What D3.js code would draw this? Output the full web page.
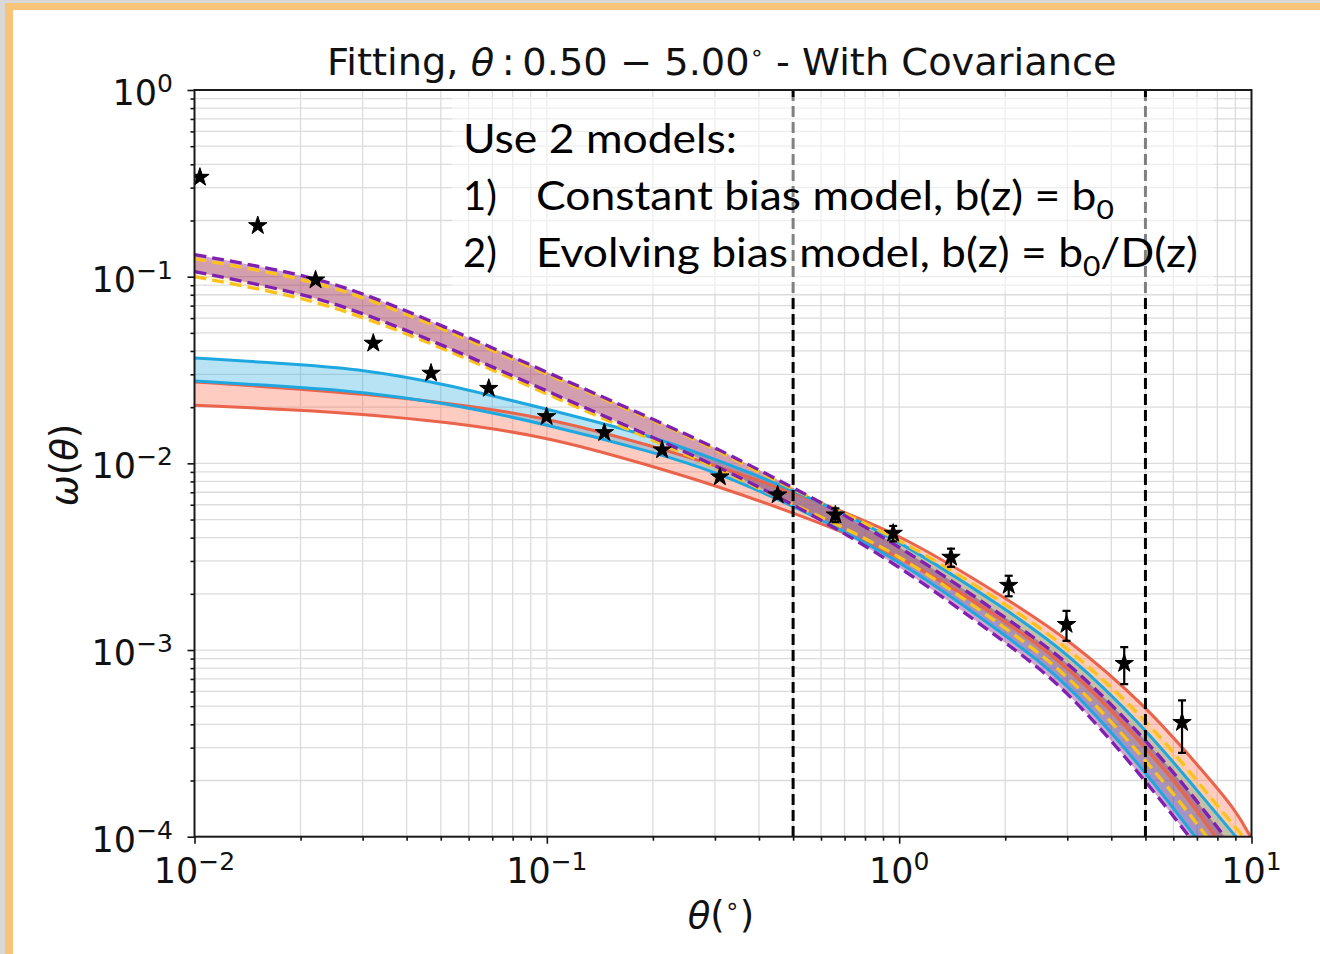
<!DOCTYPE html>
<html>
<head>
<meta charset="utf-8">
<script src="https://cdn.jsdelivr.net/npm/d3@7"></script>
<style>
  html, body { margin: 0; padding: 0; background: #ffffff; }
  svg { display: block; }
</style>
</head>
<body>
<svg id="chart"></svg>
<script>
// θ grid (degrees) on which the model curves are sampled
const thetaGrid = [0.01, 0.02, 0.03, 0.05, 0.1, 0.2, 0.3, 0.5, 1, 2, 3, 5, 7, 9, 10];

// red band (solid edges)
const redUpper = [0.0273, 0.0250, 0.0235, 0.0213, 0.0177, 0.01235, 0.00976, 0.00699, 0.00426, 0.00190, 0.00116, 0.000506, 0.000244, 0.000141, 0.0000975];
const redLower = [0.0205, 0.01927, 0.01834, 0.0168, 0.0140, 0.00963, 0.00762, 0.00545, 0.00328, 0.00143, 0.000831, 0.000305, 0.000141, 0.0000690, 0.0000545];
// blue band (solid edges)
const blueUpper = [0.0367, 0.0338, 0.0318, 0.0270, 0.0195, 0.0140, 0.01051, 0.00725, 0.00390, 0.00166, 0.000975, 0.000381, 0.000177, 0.000101, 0.0000791];
const blueLower = [0.0276, 0.0256, 0.0241, 0.0213, 0.0162, 0.0115, 0.00906, 0.00594, 0.00308, 0.00120, 0.000673, 0.000224, 0.0000975, 0.0000513, 0.0000400];
// purple band (dashed edges)
const purpleUpper = [0.1313, 0.1038, 0.0820, 0.0552, 0.0308, 0.01724, 0.0122, 0.00743, 0.00367, 0.00149, 0.000884, 0.000336, 0.000156, 0.0000841, 0.0000656];
const purpleLower = [0.1064, 0.0820, 0.0640, 0.0436, 0.0244, 0.0138, 0.00976, 0.00609, 0.00286, 0.00110, 0.000617, 0.000200, 0.0000894, 0.0000453, 0.0000353];
// yellow band (dashed edges)
const yellowUpper = [0.1249, 0.0988, 0.0781, 0.0532, 0.0301, 0.0170, 0.0120, 0.00716, 0.00400, 0.00177, 0.00105, 0.000431, 0.000200, 0.000112, 0.0000894];
const yellowLower = [0.1000, 0.0781, 0.0609, 0.0420, 0.0235, 0.0133, 0.00952, 0.00602, 0.00332, 0.00131, 0.000752, 0.000259, 0.000119, 0.0000617, 0.0000482];

// measured w(theta) with errors
const dataTheta = [0.01036, 0.01512, 0.02206, 0.03217, 0.04692, 0.06844, 0.09984, 0.1456, 0.2124, 0.3098, 0.4519, 0.6592, 0.9616, 1.403, 2.046, 2.985, 4.353, 6.351];
const dataOmega = [0.3406, 0.1876, 0.0960, 0.0440, 0.0304, 0.0252, 0.01779, 0.01460, 0.01180, 0.00846, 0.00677, 0.00529, 0.00422, 0.00314, 0.00222, 0.00137, 0.000847, 0.000409];
const dataError = [0.004, 0.003, 0.002, 0.001, 0.0007, 0.0005, 0.0004, 0.0003, 0.00025, 0.0002, 0.0003, 0.00045, 0.0004, 0.00035, 0.00028, 0.00025, 0.00019, 0.000128];

// fitting range limits
const fitRange = [0.5, 5];

// tick labels
const xTickValues = [0.01, 0.1, 1, 10];
const xTickExp = ["\u22122", "\u22121", "0", "1"];
const yTickValues = [1, 0.1, 0.01, 0.001, 0.0001];
const yTickExp = ["0", "\u22121", "\u22122", "\u22123", "\u22124"];

// overlay note
const noteHeader = "Use 2 models:";
const noteNumbers = ["1)", "2)"];
const noteText = ["Constant bias model, b(z) = b", "Evolving bias model, b(z) = b"];
const noteTail = ["", "/D(z)"];

const width = 1320;
const height = 954;
const pLeft = 194.5, pRight = 1251.5, pTop = 90, pBottom = 836.7;

const x = d3.scaleLog().domain([0.01, 10]).range([pLeft, pRight]);
const y = d3.scaleLog().domain([1e-4, 1]).range([pBottom, pTop]);

const svg = d3.select("#chart")
    .attr("width", width)
    .attr("height", height)
    .attr("viewBox", [0, 0, width, height]);

svg.append("rect").attr("width", width).attr("height", height).attr("fill", "#ffffff");

// slide frame (grey edge + orange border)
svg.append("rect").attr("x", 0).attr("y", 0).attr("width", width).attr("height", 3).attr("fill", "#d8d8d8");
svg.append("rect").attr("x", 0).attr("y", 0).attr("width", 5).attr("height", height).attr("fill", "#d8d8d8");
svg.append("rect").attr("x", 5).attr("y", 3).attr("width", width - 5).attr("height", 7).attr("fill", "#f7c47a");
svg.append("rect").attr("x", 5).attr("y", 3).attr("width", 8).attr("height", height - 3).attr("fill", "#f7c47a");

svg.append("defs").append("clipPath")
    .attr("id", "plot-clip")
    .append("rect")
    .attr("x", pLeft).attr("y", pTop)
    .attr("width", pRight - pLeft).attr("height", pBottom - pTop);

const plot = svg.append("g").attr("clip-path", "url(#plot-clip)");

// grid, major and minor
plot.append("g").selectAll("line")
    .data(x.ticks())
    .join("line")
    .attr("x1", d => x(d)).attr("x2", d => x(d))
    .attr("y1", pTop).attr("y2", pBottom)
    .attr("stroke", "#dcdcdc").attr("stroke-width", 1.3);

plot.append("g").selectAll("line")
    .data(y.ticks())
    .join("line")
    .attr("x1", pLeft).attr("x2", pRight)
    .attr("y1", d => y(d)).attr("y2", d => y(d))
    .attr("stroke", "#dcdcdc").attr("stroke-width", 1.3);

// bands
const idx = d3.range(thetaGrid.length);
const smooth = d3.curveBasis;
const band = (upper, lower) => d3.area()
    .x(i => x(thetaGrid[i]))
    .y0(i => y(lower[i]))
    .y1(i => y(upper[i]))
    .curve(smooth)(idx);
const curve = series => d3.line()
    .x(i => x(thetaGrid[i]))
    .y(i => y(series[i]))
    .curve(smooth)(idx);

plot.append("path").attr("d", band(redUpper, redLower)).attr("fill", "#ff6347").attr("fill-opacity", 0.33);
plot.append("path").attr("d", band(blueUpper, blueLower)).attr("fill", "#1fa8e0").attr("fill-opacity", 0.32);
plot.append("path").attr("d", band(yellowUpper, yellowLower)).attr("fill", "#ffc820").attr("fill-opacity", 0.2);
plot.append("path").attr("d", band(purpleUpper, purpleLower)).attr("fill", "#800070").attr("fill-opacity", 0.35);

// band edges
[redUpper, redLower].forEach(s => {
    plot.append("path").attr("d", curve(s))
        .attr("fill", "none").attr("stroke", "#ea644c").attr("stroke-width", 3);
});
[blueUpper, blueLower].forEach(s => {
    plot.append("path").attr("d", curve(s))
        .attr("fill", "none").attr("stroke", "#1fa8e0").attr("stroke-width", 3);
});
[yellowUpper, yellowLower].forEach(s => {
    plot.append("path").attr("d", curve(s))
        .attr("fill", "none").attr("stroke", "#fcc21c").attr("stroke-width", 3.3)
        .attr("stroke-dasharray", "12,6");
});
[purpleUpper, purpleLower].forEach(s => {
    plot.append("path").attr("d", curve(s))
        .attr("fill", "none").attr("stroke", "#8020b0").attr("stroke-width", 3.3)
        .attr("stroke-dasharray", "12,6");
});

// fitting range
plot.append("g").selectAll("line")
    .data(fitRange)
    .join("line")
    .attr("x1", d => x(d)).attr("x2", d => x(d))
    .attr("y1", pTop).attr("y2", pBottom)
    .attr("stroke", "#000000").attr("stroke-width", 3)
    .attr("stroke-dasharray", "11,5");

// error bars + star markers
const errG = plot.append("g").attr("stroke", "#000000").attr("stroke-width", 2.2);
d3.range(dataTheta.length).forEach(i => {
    const cx = x(dataTheta[i]);
    const y1 = y(dataOmega[i] + dataError[i]);
    const y0 = y(Math.max(dataOmega[i] - dataError[i], 1e-6));
    errG.append("line").attr("x1", cx).attr("x2", cx).attr("y1", y1).attr("y2", y0);
    errG.append("line").attr("x1", cx - 4).attr("x2", cx + 4).attr("y1", y1).attr("y2", y1);
    errG.append("line").attr("x1", cx - 4).attr("x2", cx + 4).attr("y1", y0).attr("y2", y0);
});

plot.append("g").selectAll("path")
    .data(d3.range(dataTheta.length))
    .join("path")
    .attr("transform", i => `translate(${x(dataTheta[i])},${y(dataOmega[i])})`)
    .attr("d", d3.symbol(d3.symbolStar, 105))
    .attr("fill", "#000000")
    .attr("stroke", "#000000").attr("stroke-width", 1);

// semi transparent text box of the slide
svg.append("rect")
    .attr("x", 452).attr("y", 97).attr("width", 762).attr("height", 196)
    .attr("fill", "#ffffff").attr("fill-opacity", 0.5);

// axes
const minorX = x.ticks().filter(d => !xTickValues.some(v => Math.abs(v - d) / v < 1e-6));
const minorY = y.ticks().filter(d => !yTickValues.some(v => Math.abs(v - d) / v < 1e-6));

const xAxisG = svg.append("g").attr("transform", `translate(0,${pBottom})`);
xAxisG.append("g").call(d3.axisBottom(x).tickValues(xTickValues).tickSize(7).tickFormat(() => ""));
xAxisG.append("g").call(d3.axisBottom(x).tickValues(minorX).tickSize(4).tickFormat(() => ""));
xAxisG.selectAll(".domain").remove();
xAxisG.selectAll(".tick line").attr("stroke", "#111").attr("stroke-width", 1.6);

const yAxisG = svg.append("g").attr("transform", `translate(${pLeft},0)`);
yAxisG.append("g").call(d3.axisLeft(y).tickValues(yTickValues).tickSize(7).tickFormat(() => ""));
yAxisG.append("g").call(d3.axisLeft(y).tickValues(minorY).tickSize(4).tickFormat(() => ""));
yAxisG.selectAll(".domain").remove();
yAxisG.selectAll(".tick line").attr("stroke", "#111").attr("stroke-width", 1.6);

svg.append("rect")
    .attr("x", pLeft).attr("y", pTop)
    .attr("width", pRight - pLeft).attr("height", pBottom - pTop)
    .attr("fill", "none").attr("stroke", "#1a1a1a").attr("stroke-width", 2);

// tick labels with superscript exponents
const tickFont = "'DejaVu Sans', sans-serif";
xTickValues.forEach((v, i) => {
    const t = svg.append("text")
        .attr("x", x(v)).attr("y", 883)
        .attr("text-anchor", "middle")
        .style("font-family", tickFont).style("font-size", "35px").attr("fill", "#111");
    t.append("tspan").text("10");
    t.append("tspan").attr("dy", -13).style("font-size", "25px").text(xTickExp[i]);
});
yTickValues.forEach((v, i) => {
    const t = svg.append("text")
        .attr("x", 173).attr("y", y(v) + 15)
        .attr("text-anchor", "end")
        .style("font-family", tickFont).style("font-size", "35px").attr("fill", "#111");
    t.append("tspan").text("10");
    t.append("tspan").attr("dy", -13).style("font-size", "25px").text(yTickExp[i]);
});

// axis labels
const xl = svg.append("text")
    .attr("x", 721).attr("y", 928).attr("text-anchor", "middle")
    .style("font-family", tickFont).style("font-size", "37px").attr("fill", "#111");
xl.append("tspan").style("font-style", "italic").text("\u03b8");
xl.append("tspan").text("(");
xl.append("tspan").attr("dy", -14).style("font-size", "24px").text("\u2218");
xl.append("tspan").attr("dy", 14).text(")");

const yl = svg.append("text")
    .attr("transform", "translate(77,465) rotate(-90)")
    .attr("text-anchor", "middle")
    .style("font-family", tickFont).style("font-size", "37px").attr("fill", "#111");
yl.append("tspan").style("font-style", "italic").text("\u03c9");
yl.append("tspan").text("(");
yl.append("tspan").style("font-style", "italic").text("\u03b8");
yl.append("tspan").text(")");

// title
const title = svg.append("text")
    .attr("x", 327).attr("y", 75)
    .style("font-family", tickFont).style("font-size", "37px").attr("fill", "#111");
title.append("tspan").text("Fitting, ");
title.append("tspan").style("font-style", "italic").text("\u03b8");
title.append("tspan").text("\u2009:\u20090.50 \u2212 5.00");
title.append("tspan").attr("dy", -15).style("font-size", "22px").text("\u2218");
title.append("tspan").attr("dy", 15).text(" - With Covariance");

// note lines
const noteFont = "Lato, 'Open Sans', sans-serif";
const header = svg.append("text")
    .attr("x", 463).attr("y", 153)
    .style("font-family", noteFont).style("font-size", "40px").attr("fill", "#000")
    .text(noteHeader);
const noteBase = [210, 267];
const noteWidth = [578, 662];
const noteEls = [];
noteNumbers.forEach((n, i) => {
    svg.append("text")
        .attr("x", 463).attr("y", noteBase[i])
        .style("font-family", noteFont).style("font-size", "40px").attr("fill", "#000")
        .text(n);
    const t = svg.append("text")
        .attr("x", 536).attr("y", noteBase[i])
        .style("font-family", noteFont).style("font-size", "40px").attr("fill", "#000");
    t.append("tspan").text(noteText[i]);
    t.append("tspan").attr("dy", 9).style("font-size", "27px").text("0");
    if (noteTail[i]) t.append("tspan").attr("dy", -9).text(noteTail[i]);
    noteEls.push(t);
});

// stretch texts horizontally to the widths in the picture
function fitWidth(sel, x0, w) {
    sel.attr("transform", null);
    const bb = sel.node().getBBox();
    const s = w / bb.width;
    sel.attr("transform", `translate(${x0},0) scale(${s},1) translate(${-x0},0)`);
}
function fitAll() {
    fitWidth(title, 327, 790);
    fitWidth(header, 463, 274);
    noteEls.forEach((t, i) => fitWidth(t, 536, noteWidth[i]));
}
fitAll();
if (document.fonts && document.fonts.ready) document.fonts.ready.then(fitAll);
</script>
</body>
</html>
